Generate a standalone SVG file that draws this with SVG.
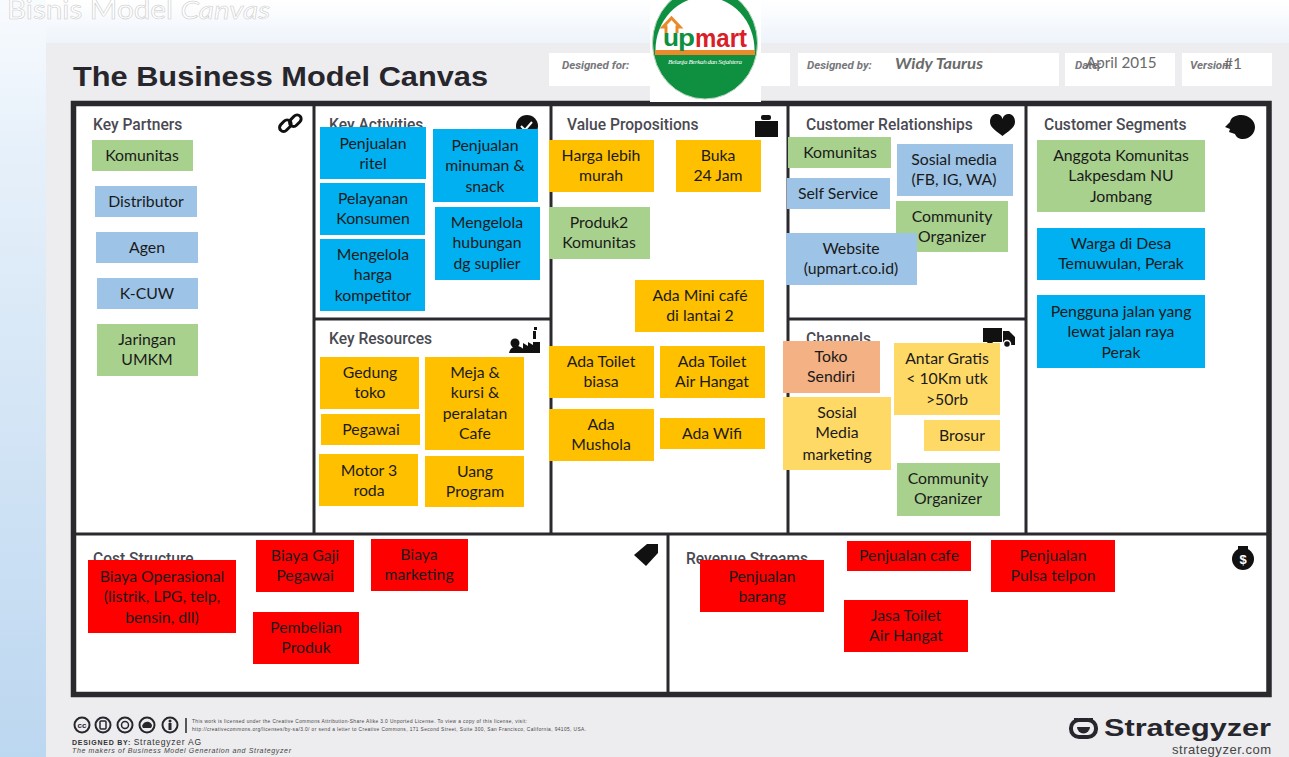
<svg xmlns="http://www.w3.org/2000/svg" width="1289" height="757" viewBox="0 0 1289 757">
<style>
.s{font-family:"Lato","Open Sans",sans-serif;font-size:15.8px;fill:#1a1a1a;text-anchor:middle}
.h{font-family:"Roboto","Liberation Sans",sans-serif;font-size:15.6px;font-weight:500;fill:#4a4a52}
.f{font-family:"Roboto","Liberation Sans",sans-serif;font-size:11.5px;font-weight:700;font-style:italic;fill:#77777c}
.g{fill:#a9d18e}.b{fill:#9dc3e6}.c{fill:#00b0f0}.o{fill:#ffc000}.y{fill:#ffd966}.r{fill:#ff0000}.p{fill:#f4b183}
.l{stroke:#2a2a2e;stroke-width:3;fill:none}
</style>
<defs>
<linearGradient id="bg" x1="0" y1="0" x2="0" y2="1"><stop offset="0" stop-color="#f8fbfe"/><stop offset="0.2" stop-color="#e6f0fa"/><stop offset="1" stop-color="#bcd7f0"/></linearGradient>
<linearGradient id="tp" x1="0" y1="0" x2="0" y2="1"><stop offset="0" stop-color="#ffffff"/><stop offset="1" stop-color="#eef4fb"/></linearGradient>
</defs>
<rect width="1289" height="757" fill="url(#bg)"/>
<rect x="46" y="0" width="1243" height="43" fill="url(#tp)"/>
<rect x="46" y="43" width="1243" height="714" fill="#edecee"/>
<text x="7" y="19" font-family="Lato,sans-serif" font-size="26" fill="#ffffff" stroke="#c8c8c8" stroke-width="0.5" textLength="263" lengthAdjust="spacingAndGlyphs">Bisnis Model <tspan font-style="italic">Canvas</tspan></text>
<text x="73" y="86" font-family="Liberation Sans,sans-serif" font-size="27.5" font-weight="700" fill="#26262c" textLength="415" lengthAdjust="spacingAndGlyphs">The Business Model Canvas</text>
<g id="header-fields" fill="#ffffff">
<rect x="549" y="53" width="241" height="33"/><rect x="798" y="53" width="261" height="33"/><rect x="1065" y="53" width="110" height="33"/><rect x="1182" y="53" width="90" height="33"/>
</g>
<text class="f" x="562" y="69">Designed for:</text><text class="f" x="807" y="69">Designed by:</text><text class="f" x="1075" y="69">Date:</text><text class="f" x="1190" y="69">Version:</text>
<text x="895" y="69" font-family="Lato,sans-serif" font-size="16" font-weight="700" font-style="italic" fill="#6a6a6a" textLength="88" lengthAdjust="spacingAndGlyphs">Widy Taurus</text>
<text x="1086" y="68" font-family="Lato,sans-serif" font-size="15.2" fill="#6a6a6a">April 2015</text>
<text x="1224" y="69" font-family="Lato,sans-serif" font-size="15.5" fill="#6a6a6a">#1</text>
<rect x="73" y="103" width="1196" height="592" fill="#ffffff"/>
<g id="connectors">
<rect class="l" x="73.500" y="103.500" width="1195.500" height="591" style="stroke-width:5.500"/>
<path class="l" d="M314 103V534M551 103V534M788 103V534M1026 103V534M73 534H1267M668 534V694M314 319H551M788 319H1026"/>
</g>
<g id="titles">
<text class="h" x="93" y="130">Key Partners</text><text class="h" x="329" y="130">Key Activities</text><text class="h" x="567" y="130">Value Propositions</text><text class="h" x="806" y="130">Customer Relationships</text><text class="h" x="1044" y="130">Customer Segments</text>
<text class="h" x="329" y="344">Key Resources</text><text class="h" x="806" y="344">Channels</text>
<text class="h" x="93" y="564">Cost Structure</text><text class="h" x="686" y="564">Revenue Streams</text>
</g>
<g id="icons" fill="#111">
<g fill="none" stroke="#111" stroke-width="3"><rect x="279" y="122" width="13" height="8" rx="4" transform="rotate(-45 285 126)"/><rect x="289" y="117" width="13" height="8" rx="4" transform="rotate(-45 295 121)"/></g>
<circle cx="527" cy="126" r="11"/><path d="M521 126l4 4 7-8" fill="none" stroke="#fff" stroke-width="2"/>
<rect x="755" y="121" width="23" height="16"/><rect x="761" y="115" width="10" height="5" rx="2"/>
<path d="M990 122c0-10 11-10 12.500-3 1.500-7 12.500-7 12.500 3 0 6-8 10-12.500 14-4.500-4-12.500-8-12.500-14z"/>
<path d="M1225 127l5-5c1-5 6-7 11-7 8 0 14 6 14 12s-5 12-12 12c-4 0-7-2-8-5l-6-2 1-3z"/>
<circle cx="515" cy="343" r="4.500"/><path d="M509 353c1-5 5-7 8-7s7 2 8 7z"/>
<path d="M523 353v-10l5 3v-4l5 3v-3h7v11z"/><rect x="533" y="331" width="3" height="8"/><rect x="534" y="327" width="3" height="3"/>
<path d="M983 328h19v14h-19zM1003 331h6l6 6v8h-12z"/><circle cx="1007" cy="344" r="3.500" stroke="#fff" stroke-width="1.500"/><circle cx="990" cy="344" r="3"/>
<path d="M634 555l13-11h11v9l-12 13z"/>
<circle cx="1243" cy="559" r="11"/><rect x="1238" y="546" width="10" height="4"/><text x="1243" y="564" font-family="Liberation Sans,sans-serif" font-size="13" font-weight="700" fill="#fff" text-anchor="middle">$</text>
</g>
<g id="n1"><rect class="g" x="92" y="140" width="101" height="31"/><text class="s" x="142" y="161">Komunitas</text></g>
<g id="n2"><rect class="b" x="95" y="186" width="102" height="31"/><text class="s" x="146" y="207">Distributor</text></g>
<g id="n3"><rect class="b" x="96" y="232" width="102" height="31"/><text class="s" x="147" y="253">Agen</text></g>
<g id="n4"><rect class="b" x="97" y="278" width="101" height="31"/><text class="s" x="147" y="299">K-CUW</text></g>
<g id="n5"><rect class="g" x="97" y="324" width="101" height="52"/><text class="s" x="147" y="345">Jaringan</text><text class="s" x="147" y="365">UMKM</text></g>
<g id="n6"><rect class="c" x="320" y="127" width="106" height="52"/><text class="s" x="373" y="149">Penjualan</text><text class="s" x="373" y="169">ritel</text></g>
<g id="n7"><rect class="c" x="320" y="183" width="105" height="52"/><text class="s" x="373" y="204">Pelayanan</text><text class="s" x="373" y="224">Konsumen</text></g>
<g id="n8"><rect class="c" x="320" y="239" width="105" height="72"/><text class="s" x="373" y="260">Mengelola</text><text class="s" x="373" y="280">harga</text><text class="s" x="373" y="301">kompetitor</text></g>
<g id="n9"><rect class="c" x="433" y="129" width="105" height="73"/><text class="s" x="485" y="151">Penjualan</text><text class="s" x="485" y="171">minuman &amp;</text><text class="s" x="485" y="192">snack</text></g>
<g id="n10"><rect class="c" x="435" y="207" width="105" height="73"/><text class="s" x="487" y="228">Mengelola</text><text class="s" x="487" y="248">hubungan</text><text class="s" x="487" y="269">dg suplier</text></g>
<g id="n11"><rect class="o" x="320" y="357" width="99" height="52"/><text class="s" x="370" y="378">Gedung</text><text class="s" x="370" y="398">toko</text></g>
<g id="n12"><rect class="o" x="321" y="414" width="99" height="31"/><text class="s" x="371" y="435">Pegawai</text></g>
<g id="n13"><rect class="o" x="319" y="454" width="99" height="52"/><text class="s" x="369" y="476">Motor 3</text><text class="s" x="369" y="496">roda</text></g>
<g id="n14"><rect class="o" x="425" y="357" width="99" height="93"/><text class="s" x="475" y="378">Meja &amp;</text><text class="s" x="475" y="398">kursi &amp;</text><text class="s" x="475" y="419">peralatan</text><text class="s" x="475" y="439">Cafe</text></g>
<g id="n15"><rect class="o" x="425" y="456" width="99" height="51"/><text class="s" x="475" y="477">Uang</text><text class="s" x="475" y="497">Program</text></g>
<g id="n16"><rect class="o" x="549" y="140" width="105" height="52"/><text class="s" x="601" y="161">Harga lebih</text><text class="s" x="601" y="181">murah</text></g>
<g id="n17"><rect class="o" x="676" y="140" width="85" height="52"/><text class="s" x="718" y="161">Buka</text><text class="s" x="718" y="181">24 Jam</text></g>
<g id="n18"><rect class="g" x="549" y="207" width="101" height="52"/><text class="s" x="599" y="228">Produk2</text><text class="s" x="599" y="248">Komunitas</text></g>
<g id="n19"><rect class="o" x="635" y="280" width="129" height="52"/><text class="s" x="700" y="301">Ada Mini café</text><text class="s" x="700" y="321">di lantai 2</text></g>
<g id="n20"><rect class="o" x="549" y="346" width="105" height="52"/><text class="s" x="601" y="367">Ada Toilet</text><text class="s" x="601" y="387">biasa</text></g>
<g id="n21"><rect class="o" x="660" y="346" width="105" height="52"/><text class="s" x="712" y="367">Ada Toilet</text><text class="s" x="712" y="387">Air Hangat</text></g>
<g id="n22"><rect class="o" x="549" y="409" width="105" height="52"/><text class="s" x="601" y="430">Ada</text><text class="s" x="601" y="450">Mushola</text></g>
<g id="n23"><rect class="o" x="660" y="418" width="105" height="31"/><text class="s" x="712" y="439">Ada Wifi</text></g>
<g id="n24"><rect class="g" x="788" y="137" width="103" height="31"/><text class="s" x="840" y="158">Komunitas</text></g>
<g id="n25"><rect class="b" x="897" y="144" width="116" height="52"/><text class="s" x="954" y="165">Sosial media</text><text class="s" x="954" y="185">(FB, IG, WA)</text></g>
<g id="n26"><rect class="b" x="787" y="178" width="103" height="31"/><text class="s" x="838" y="199">Self Service</text></g>
<g id="n27"><rect class="g" x="896" y="201" width="112" height="51"/><text class="s" x="952" y="222">Community</text><text class="s" x="952" y="242">Organizer</text></g>
<g id="n28"><rect class="b" x="786" y="233" width="131" height="52"/><text class="s" x="851" y="254">Website</text><text class="s" x="851" y="274">(upmart.co.id)</text></g>
<g id="n29"><rect class="p" x="783" y="341" width="97" height="52"/><text class="s" x="831" y="362">Toko</text><text class="s" x="831" y="382">Sendiri</text></g>
<g id="n30"><rect class="y" x="783" y="397" width="108" height="73"/><text class="s" x="837" y="418">Sosial</text><text class="s" x="837" y="438">Media</text><text class="s" x="837" y="460">marketing</text></g>
<g id="n31"><rect class="y" x="894" y="343" width="106" height="72"/><text class="s" x="947" y="364">Antar Gratis</text><text class="s" x="947" y="384">&lt; 10Km utk</text><text class="s" x="947" y="405">&gt;50rb</text></g>
<g id="n32"><rect class="y" x="924" y="420" width="76" height="31"/><text class="s" x="962" y="441">Brosur</text></g>
<g id="n33"><rect class="g" x="897" y="463" width="103" height="53"/><text class="s" x="948" y="484">Community</text><text class="s" x="948" y="504">Organizer</text></g>
<g id="n34"><rect class="g" x="1037" y="140" width="168" height="72"/><text class="s" x="1121" y="161">Anggota Komunitas</text><text class="s" x="1121" y="181">Lakpesdam NU</text><text class="s" x="1121" y="202">Jombang</text></g>
<g id="n35"><rect class="c" x="1037" y="228" width="168" height="52"/><text class="s" x="1121" y="249">Warga di Desa</text><text class="s" x="1121" y="269">Temuwulan, Perak</text></g>
<g id="n36"><rect class="c" x="1037" y="295" width="168" height="73"/><text class="s" x="1121" y="317">Pengguna jalan yang</text><text class="s" x="1121" y="337">lewat jalan raya</text><text class="s" x="1121" y="358">Perak</text></g>
<g id="n37"><rect class="r" x="88" y="560" width="148" height="73"/><text class="s" x="162" y="582">Biaya Operasional</text><text class="s" x="162" y="602">(listrik, LPG, telp,</text><text class="s" x="162" y="623">bensin, dll)</text></g>
<g id="n38"><rect class="r" x="256" y="540" width="98" height="52"/><text class="s" x="305" y="561">Biaya Gaji</text><text class="s" x="305" y="581">Pegawai</text></g>
<g id="n39"><rect class="r" x="371" y="539" width="97" height="52"/><text class="s" x="419" y="560">Biaya</text><text class="s" x="419" y="580">marketing</text></g>
<g id="n40"><rect class="r" x="253" y="612" width="106" height="52"/><text class="s" x="306" y="633">Pembelian</text><text class="s" x="306" y="653">Produk</text></g>
<g id="n41"><rect class="r" x="700" y="560" width="124" height="52"/><text class="s" x="762" y="582">Penjualan</text><text class="s" x="762" y="602">barang</text></g>
<g id="n42"><rect class="r" x="847" y="541" width="124" height="30"/><text class="s" x="909" y="561">Penjualan cafe</text></g>
<g id="n43"><rect class="r" x="991" y="540" width="124" height="52"/><text class="s" x="1053" y="561">Penjualan</text><text class="s" x="1053" y="581">Pulsa telpon</text></g>
<g id="n44"><rect class="r" x="844" y="600" width="124" height="52"/><text class="s" x="906" y="621">Jasa Toilet</text><text class="s" x="906" y="641">Air Hangat</text></g>
<g id="logo">
<rect x="650" y="0" width="111" height="102" fill="#fff"/>
<ellipse cx="705" cy="43" rx="52.500" ry="56" fill="#0e9040" stroke="#b9d6bf" stroke-width="1"/>
<path d="M655.500 50A49.500 53 0 0 1 754.500 50Z" fill="#fff" transform="translate(0 0)"/>
<rect x="655" y="50" width="100" height="5" fill="#e98b2a"/>
<text x="663" y="46" font-family="Liberation Sans,sans-serif" font-size="24" font-weight="700" fill="#0e9040" textLength="16" lengthAdjust="spacingAndGlyphs">u</text>
<text x="678" y="46" font-family="Liberation Sans,sans-serif" font-size="24" font-weight="700" fill="#0e9040" textLength="17" lengthAdjust="spacingAndGlyphs">p</text>
<text x="695" y="47" font-family="Liberation Sans,sans-serif" font-size="25" font-weight="700" fill="#d92027" textLength="52" lengthAdjust="spacingAndGlyphs">mart</text>
<path d="M666 33v-6h-3l8.500-9 8.500 9h-3v6" fill="none" stroke="#e98b2a" stroke-width="3"/>
<text x="705" y="64" font-family="Liberation Serif,serif" font-size="7" font-style="italic" fill="#fff" text-anchor="middle" textLength="74">Belanja Berkah dan Sejahtera</text>
</g>
<g id="footer">
<g fill="#edecee" stroke="#26262c" stroke-width="2"><circle cx="82" cy="725" r="7.500"/><circle cx="103" cy="725" r="7.500"/><circle cx="125" cy="725" r="7.500"/><circle cx="147" cy="725" r="7.500"/><circle cx="170" cy="725" r="7.500"/></g>
<text x="82" y="728" font-family="Liberation Sans,sans-serif" font-size="8" font-weight="700" fill="#26262c" text-anchor="middle">cc</text>
<rect x="100" y="721" width="6" height="8" rx="1" fill="none" stroke="#26262c" stroke-width="1.500"/>
<circle cx="125" cy="725" r="3.500" fill="none" stroke="#26262c" stroke-width="1.500"/>
<path d="M142 726c1-4 5-5 7-4s3 2 3 4l-1 2h-8z" fill="#26262c"/>
<circle cx="170" cy="721" r="1.500" fill="#26262c"/><rect x="168.500" y="723" width="3" height="7" fill="#26262c"/>
<path d="M186 718v15" stroke="#26262c" stroke-width="1.500"/>
<text x="192" y="723" font-family="Liberation Sans,sans-serif" font-size="4.800" fill="#444" textLength="335">This work is licensed under the Creative Commons Attribution-Share Alike 3.0 Unported License. To view a copy of this license, visit:</text>
<text x="192" y="731" font-family="Liberation Sans,sans-serif" font-size="4.800" fill="#444" textLength="394">http://creativecommons.org/licenses/by-sa/3.0/ or send a letter to Creative Commons, 171 Second Street, Suite 300, San Francisco, California, 94105, USA.</text>
<text x="72" y="745" font-family="Liberation Sans,sans-serif" font-size="7" font-weight="700" fill="#333" textLength="129">DESIGNED BY: <tspan font-weight="400" font-size="8.500">Strategyzer AG</tspan></text>
<text x="72" y="753" font-family="Liberation Sans,sans-serif" font-size="7" font-style="italic" fill="#444" textLength="219">The makers of Business Model Generation and Strategyzer</text>
<rect x="1071" y="720" width="25" height="17" rx="8" fill="none" stroke="#26262c" stroke-width="4"/><path d="M1077 727a6.500 6.500 0 0 0 13 0z" fill="#26262c"/><path d="M1074 718h4v3h-4zM1089 718h4v3h-4z" fill="#26262c"/>
<text x="1104" y="736" font-family="Liberation Sans,sans-serif" font-size="23" font-weight="700" fill="#26262c" textLength="167" lengthAdjust="spacingAndGlyphs">Strategyzer</text>
<text x="1271" y="754" font-family="Liberation Sans,sans-serif" font-size="13" fill="#444" text-anchor="end" textLength="99">strategyzer.com</text>
</g>
</svg>
